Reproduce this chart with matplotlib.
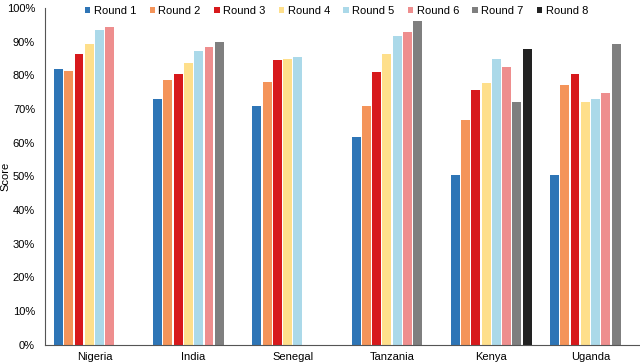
import numpy as np
import matplotlib.pyplot as plt
from matplotlib.ticker import PercentFormatter

plt.rcParams['font.family'] = ['Liberation Sans', 'DejaVu Sans']

countries = ["Nigeria", "India", "Senegal", "Tanzania", "Kenya", "Uganda"]
rounds = ["Round 1", "Round 2", "Round 3", "Round 4",
          "Round 5", "Round 6", "Round 7", "Round 8"]

# one list per round, None where the round has no value for that country
round_1 = [81.9, 73.0, 70.9, 61.7, 50.4, 50.4]
round_2 = [81.3, 78.6, 78.0, 70.9, 66.8, 77.2]
round_3 = [86.4, 80.4, 84.6, 81.0, 75.8, 80.4]
round_4 = [89.2, 83.7, 85.0, 86.2, 77.7, 72.0]
round_5 = [93.5, 87.1, 85.5, 91.8, 84.9, 73.1]
round_6 = [94.5, 88.4, None, 93.0, 82.6, 74.8]
round_7 = [None, 89.9, None, 96.1, 72.1, 89.2]
round_8 = [None, None, None, None, 87.7, None]

series = [round_1, round_2, round_3, round_4, round_5, round_6, round_7, round_8]
colors = ["#2E75B6", "#F4945A", "#D7191C", "#FEDF8B",
          "#ABD9E9", "#EE8E8E", "#7F7F7F", "#222222"]

fig = plt.figure(figsize=(6.4, 3.63), dpi=100)
ax = fig.add_axes([0.07, 0.05, 0.93, 0.928])

x = np.arange(len(countries))
slot = 0.1035
width = 0.09
for i, (vals, col, lab) in enumerate(zip(series, colors, rounds)):
    xs = [xi for xi, v in zip(x, vals) if v is not None]
    ys = [v for v in vals if v is not None]
    offset = (i - 3.5) * slot
    ax.bar(np.array(xs) + offset, ys, width=width, color=col, label=lab)

ax.set_xlim(-0.5, len(countries) - 0.5)
ax.set_ylim(0, 100)
ax.set_yticks(np.arange(0, 101, 10))
ax.yaxis.set_major_formatter(PercentFormatter(decimals=0))
ax.set_xticks(x)
ax.set_xticklabels(countries)
ax.tick_params(axis='both', length=0, labelsize=8)
ax.tick_params(axis='y', pad=7)
ax.tick_params(axis='x', pad=5)
ax.set_ylabel("Score", fontsize=8)
ax.yaxis.set_label_coords(-0.057, 0.5)

for s in ["top", "right"]:
    ax.spines[s].set_visible(False)
ax.spines["left"].set_color("#555555")
ax.spines["bottom"].set_color("#555555")

ax.legend(loc="upper center", bbox_to_anchor=(0.49, 1.035), ncol=8, frameon=False,
          fontsize=8, handlelength=0.5, handleheight=0.5, handletextpad=0.3,
          columnspacing=1.2)

fig.savefig("out.png", dpi=100)
